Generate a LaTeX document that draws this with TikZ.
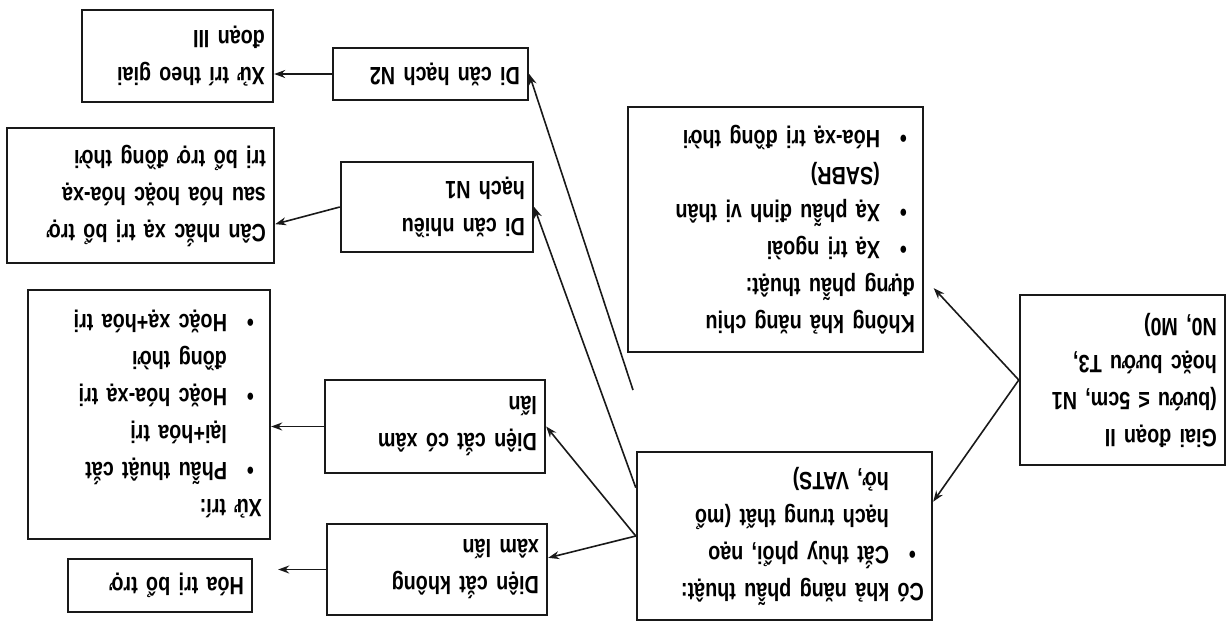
\documentclass[tikz,border=0pt]{standalone}
\usepackage{fontspec}
\setmainfont[FakeStretch=0.79]{Liberation Sans}
\usetikzlibrary{arrows.meta}
\newcommand{\bul}{\hspace*{8pt}\makebox[27pt][l]{\textbullet}}
\newcommand{\ind}{\hspace*{35pt}}

\begin{document}
\begin{tikzpicture}[
      x=1pt, y=1pt, rotate=180, transform shape,
      box/.style={draw=black!90, line width=2.4pt, fill=white, align=left, inner xsep=8pt, inner ysep=0pt, font=\fontsize{25}{37}\selectfont\bfseries},
      arrow/.style={line width=1.6pt, -{Stealth[length=11pt,width=8pt]}, draw=black!90}
      ]

      \useasboundingbox (0,0) rectangle (1229,622);

      % Nodes
      \node (stage) [box, minimum width=205pt, minimum height=170pt, text width=189pt] at (106.5,380) {Giai đoạn II\\(bướu ≤ 5cm, N1\\hoặc bướu T3,\\N0, M0)};
      \node (nosurg) [box, minimum width=295pt, minimum height=245pt, text width=279pt] at (453.5,229.5) {Không khả năng chịu\\đựng phẫu thuật:\\\bul Xạ trị ngoài\\\bul Xạ phẫu định vị thân\\\ind (SABR)\\\bul Hóa-xạ trị đồng thời};
      \node (surg) [box, minimum width=295pt, minimum height=168pt, text width=279pt] at (444.5,536) {Có khả năng phẫu thuật:\\\bul Cắt thùy phổi, nạo\\\ind hạch trung thất (mổ\\\ind hở, VATS)};
      \node (ntwo) [box, minimum width=195pt, minimum height=52pt, text width=179pt] at (798.5,74) {Di căn hạch N2};
      \node (stageiii) [box, minimum width=191pt, minimum height=92pt, text width=175pt] at (1051.5,56) {Xử trí theo giai\\đoạn III};
      \node (multin) [box, minimum width=192pt, minimum height=90pt, text width=176pt] at (792,207) {Di căn nhiều\\hạch N1};
      \node (rtadj) [box, minimum width=267pt, minimum height=135pt, text width=251pt] at (1088.5,195.5) {Cân nhắc xạ trị bổ trợ\\sau hóa hoặc hóa-xạ\\trị bổ trợ đồng thời};
      \node (rplus) [box, minimum width=220pt, minimum height=93pt, text width=204pt] at (794,426.5) {Diện cắt có xâm\\lấn};
      \node (xutri) [box, minimum width=242pt, minimum height=249pt, text width=226pt] at (1080,414.5) {Xử trí:\\\bul Phẫu thuật cắt\\\ind lại+hóa trị\\\bul Hoặc hóa-xạ trị\\\ind đồng thời\\\bul Hoặc xạ+hóa trị};
      \node (rminus) [box, minimum width=220pt, minimum height=91pt, text width=204pt] at (792,569.5) {Diện cắt không\\xâm lấn};
      \node (hoatri) [box, minimum width=184pt, minimum height=53pt, text width=168pt] at (1069,585.5) {Hóa trị bổ trợ};
      \coordinate (gap) at (596,390);

      % Arrows
      \draw [arrow, shorten >=14pt] (stage.east) -- (nosurg.162);
      \draw [arrow] (stage.east) -- (surg.193);
      \draw [arrow] (surg.east) -- (rplus.west);
      \draw [arrow] (surg.east) -- (rminus.186);
      \draw [arrow] (surg.342) -- (multin.west);
      \draw [arrow] (gap) -- (ntwo.west);
      \draw [arrow] (ntwo.east) -- (ntwo.east -| stageiii.west);
      \draw [arrow] (multin.east) -- (rtadj.168);
      \draw [arrow] (rplus.east) -- (rplus.east -| xutri.west);
      \draw [arrow, shorten >=25pt] (rminus.east) -- (rminus.east -| hoatri.west);

    \end{tikzpicture}
\end{document}
